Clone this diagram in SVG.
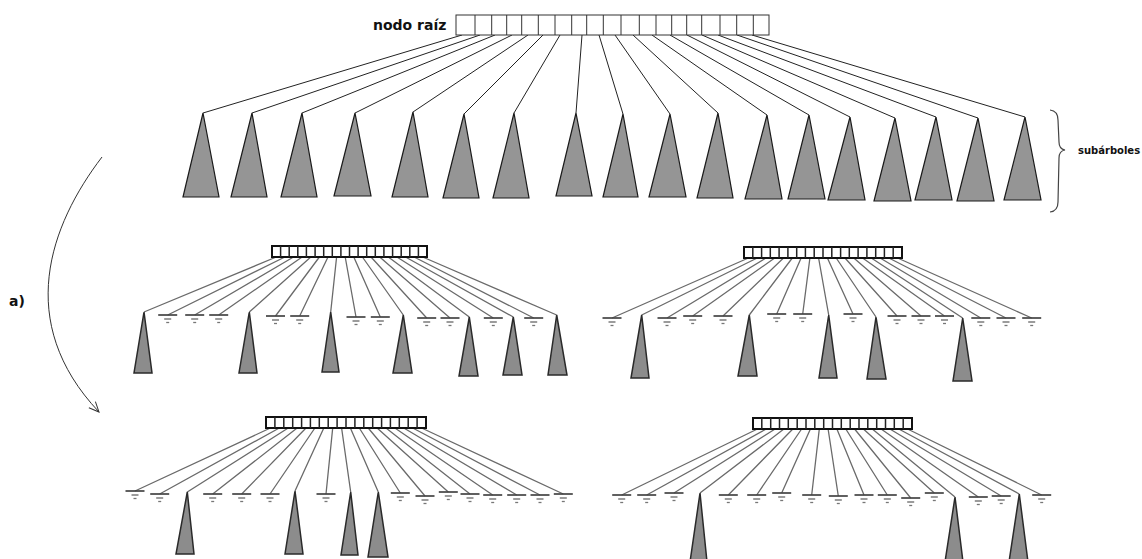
<svg xmlns="http://www.w3.org/2000/svg" xmlns:xlink="http://www.w3.org/1999/xlink" width="1142" height="559" viewBox="0 0 1142 559">
  <style>
    .lbl { font-family: "DejaVu Sans", "Liberation Sans", sans-serif; font-weight: bold; fill: #111; }
    .edge { stroke: #222; stroke-width: 1; fill: none; }
    .sub { fill: #959595; stroke: #1a1a1a; stroke-width: 1.2; stroke-linejoin: miter; }
    .rootbox { fill: #fff; stroke: #333; stroke-width: 1; }
    .cells { stroke: #333; stroke-width: 1; fill: none; }
    .sedge { stroke: #6a6a6a; stroke-width: 1.3; fill: none; }
    .ssub { fill: #8c8c8c; stroke: #2a2a2a; stroke-width: 1.5; stroke-linejoin: miter; }
    .sbox { fill: #fff; stroke: #111; stroke-width: 2; }
    .scells { stroke: #222; stroke-width: 1.5; fill: none; }
    .brace { stroke: #444; stroke-width: 1.2; fill: none; }
    .flow { stroke: #333; stroke-width: 1; fill: none; }
  </style>
  <defs>
    <!-- empty (null) child pointer -->
    <g id="gnd">
      <path d="M-9.5,0H9.5" stroke="#444" stroke-width="1.7"/>
      <path d="M-3.5,4H3.5" stroke="#666" stroke-width="1.3"/>
      <path d="M-1.5,7.5H1.5" stroke="#777" stroke-width="1.3"/>
    </g>
    <marker id="openArrow" markerUnits="userSpaceOnUse" markerWidth="14" markerHeight="12" refX="0" refY="0" viewBox="-11 -6 12 12" orient="auto">
      <path d="M-10,-4.5 L0,0 L-10,4.5" stroke="#333" stroke-width="1" fill="none"/>
    </marker>
  </defs>

  <rect width="1142" height="559" fill="#fff"/>

  <!-- labels -->
  <text class="lbl" x="373" y="30" font-size="14">nodo raíz</text>
  <text class="lbl" x="1078" y="154" font-size="10">subárboles</text>
  <text class="lbl" x="9" y="306" font-size="14">a)</text>

  <!-- connectors -->
  <g id="connectors">
    <g id="root-edges">
      <path class="edge" d="M462,35L203,113M480,35L252,113M495,35L302,113M512,35L355,113M528,35L413,112M543,35L464,114M560,35L514,113M582,35L576,113M599,35L623,114M615,35L670,114M633,35L718,113M652,35L767,115M670,35L809,115M687,35L850,117M702,35L895,118M718,35L936,117M737,35L978,118M752,35L1025,117"/>
    </g>
    <g id="treeA-edges">
      <path class="sedge" d="M276.3,257L144,312M284.9,257L167.7,315M293.5,257L194.7,315M302.1,257L218.7,315M310.8,257L249.3,312M319.4,257L275.5,316M328,257L299.7,316M336.6,257L330.7,312M345.2,257L356,317M353.8,257L380.3,317M362.4,257L403.3,315M371,257L426.7,318M379.7,257L450,318M388.3,257L469.3,317M396.9,257L493.3,318M405.5,257L513.3,317M414.1,257L533.7,318M422.7,257L556.7,315"/>
    </g>
    <g id="treeB-edges">
      <path class="sedge" d="M748.4,258L612,318M757.2,258L641.7,315M765.9,258L667,318M774.7,258L692.7,316M783.5,258L723,316M792.3,258L749.3,315M801.1,258L776.7,314M809.9,258L802.7,314M818.6,258L828.7,315M827.4,258L853,314M836.2,258L876,317M845,258L897,316M853.8,258L921,316M862.6,258L944.5,316M871.3,258L962.7,318M880.1,258L980.8,318M888.9,258L1006,318M897.6,258L1031.7,318"/>
    </g>
    <g id="treeC-edges">
      <path class="sedge" d="M270.4,428L135,491M279.3,428L159.7,494M288.2,428L187.3,492M297.1,428L212.7,494M306,428L241.7,494M314.9,428L270,494M323.8,428L295,491M332.7,428L326,494M341.6,428L350.7,492M350.4,428L378.3,492M359.3,428L400.3,493M368.2,428L425,496M377.1,428L448.3,492M386,428L470,494M394.9,428L492.7,495M403.8,428L516.7,495M412.7,428L540,495M421.6,428L563.3,494"/>
    </g>
    <g id="treeD-edges">
      <path class="sedge" d="M757.4,429L621.7,495M766.3,429L646.7,495M775.1,429L674,493M783.9,429L700,493M792.8,429L728.3,495M801.6,429L756.7,495M810.4,429L781.7,493M819.3,429L811.7,495M828.1,429L838.3,496M836.9,429L864,495M845.8,429L887.3,495M854.6,429L910.7,498M863.4,429L934.3,493M872.3,429L955,497M881.1,429L978.3,497M889.9,429L1001.2,496M898.8,429L1019.3,494M907.6,429L1041.7,495"/>
    </g>
    <!-- curved flow arrow -->
    <path id="flow-arrow" class="flow" d="M102,157 C50,225 14,322 99,412" marker-end="url(#openArrow)"/>
    <!-- brace grouping the subtrees -->
    <path id="subtree-brace" class="brace" d="M1050,110 Q1058,111 1058,120 L1059,142 Q1059,149 1065,150 Q1059,151 1059,158 L1058,202 Q1058,211 1050,212"/>
  </g>

  <!-- root node -->
  <g id="root">
    <rect class="rootbox" x="456" y="15" width="313" height="20"/>
    <path class="cells" d="M475,15V35M491.7,15V35M506.7,15V35M521.7,15V35M538.3,15V35M555,15V35M571.7,15V35M586.7,15V35M603.3,15V35M621,15V35M639.3,15V35M656,15V35M671.7,15V35M686.7,15V35M701.7,15V35M720,15V35M736.7,15V35M753.3,15V35"/>
  </g>

  <!-- subtrees of the root -->
  <g id="subtrees">
    <polygon id="st1" class="sub" points="203,113 219,197 183,197"/>
    <polygon id="st2" class="sub" points="252,113 267,197 231,197"/>
    <polygon id="st3" class="sub" points="302,113 317,197 281,197"/>
    <polygon id="st4" class="sub" points="355,113 371,196 334,196"/>
    <polygon id="st5" class="sub" points="413,112 428,197 392,197"/>
    <polygon id="st6" class="sub" points="464,114 479,198 443,198"/>
    <polygon id="st7" class="sub" points="514,113 529,198 493,198"/>
    <polygon id="st8" class="sub" points="576,113 592,196 556,196"/>
    <polygon id="st9" class="sub" points="623,114 638,197 603,197"/>
    <polygon id="st10" class="sub" points="670,114 686,197 649,197"/>
    <polygon id="st11" class="sub" points="718,113 733,198 697,198"/>
    <polygon id="st12" class="sub" points="767,115 782,199 745,199"/>
    <polygon id="st13" class="sub" points="809,115 825,199 788,199"/>
    <polygon id="st14" class="sub" points="850,117 865,200 828,200"/>
    <polygon id="st15" class="sub" points="895,118 911,201 874,201"/>
    <polygon id="st16" class="sub" points="936,117 952,200 915,200"/>
    <polygon id="st17" class="sub" points="978,118 994,201 957,201"/>
    <polygon id="st18" class="sub" points="1025,117 1041,200 1004,200"/>
  </g>

  <!-- small tree A (upper left) -->
  <g id="treeA">
    <rect class="sbox" x="272" y="246" width="155" height="11"/>
    <path class="scells" d="M280.6,246V257M289.2,246V257M297.8,246V257M306.4,246V257M315.1,246V257M323.7,246V257M332.3,246V257M340.9,246V257M349.5,246V257M358.1,246V257M366.7,246V257M375.3,246V257M383.9,246V257M392.6,246V257M401.2,246V257M409.8,246V257M418.4,246V257"/>
    <polygon class="ssub" points="144,312 152,373 134,373"/>
    <polygon class="ssub" points="249.3,312 257,373 239,373"/>
    <polygon class="ssub" points="330.7,312 339,372 322,372"/>
    <polygon class="ssub" points="403.3,315 412,373 393,373"/>
    <polygon class="ssub" points="469.3,317 478,376 459,376"/>
    <polygon class="ssub" points="513.3,317 522,375 503,375"/>
    <polygon class="ssub" points="556.7,315 567,375 548,375"/>
    <use xlink:href="#gnd" x="167.7" y="315"/>
    <use xlink:href="#gnd" x="194.7" y="315"/>
    <use xlink:href="#gnd" x="218.7" y="315"/>
    <use xlink:href="#gnd" x="275.5" y="316"/>
    <use xlink:href="#gnd" x="299.7" y="316"/>
    <use xlink:href="#gnd" x="356" y="317"/>
    <use xlink:href="#gnd" x="380.3" y="317"/>
    <use xlink:href="#gnd" x="426.7" y="318"/>
    <use xlink:href="#gnd" x="450" y="318"/>
    <use xlink:href="#gnd" x="493.3" y="318"/>
    <use xlink:href="#gnd" x="533.7" y="318"/>
  </g>

  <!-- small tree B (upper right) -->
  <g id="treeB">
    <rect class="sbox" x="744" y="247" width="158" height="11"/>
    <path class="scells" d="M752.8,247V258M761.6,247V258M770.3,247V258M779.1,247V258M787.9,247V258M796.7,247V258M805.4,247V258M814.2,247V258M823,247V258M831.8,247V258M840.6,247V258M849.3,247V258M858.1,247V258M866.9,247V258M875.7,247V258M884.4,247V258M893.2,247V258"/>
    <polygon class="ssub" points="641.7,315 649,378 631,378"/>
    <polygon class="ssub" points="749.3,315 757,376 738,376"/>
    <polygon class="ssub" points="828.7,315 837,378 819,378"/>
    <polygon class="ssub" points="876,317 886,379 867,379"/>
    <polygon class="ssub" points="962.7,318 972,381 953,381"/>
    <use xlink:href="#gnd" x="612" y="318"/>
    <use xlink:href="#gnd" x="667" y="318"/>
    <use xlink:href="#gnd" x="692.7" y="316"/>
    <use xlink:href="#gnd" x="723" y="316"/>
    <use xlink:href="#gnd" x="776.7" y="314"/>
    <use xlink:href="#gnd" x="802.7" y="314"/>
    <use xlink:href="#gnd" x="853" y="314"/>
    <use xlink:href="#gnd" x="897" y="316"/>
    <use xlink:href="#gnd" x="921" y="316"/>
    <use xlink:href="#gnd" x="944.5" y="316"/>
    <use xlink:href="#gnd" x="980.8" y="318"/>
    <use xlink:href="#gnd" x="1006" y="318"/>
    <use xlink:href="#gnd" x="1031.7" y="318"/>
  </g>

  <!-- small tree C (lower left) -->
  <g id="treeC">
    <rect class="sbox" x="266" y="417" width="160" height="11"/>
    <path class="scells" d="M274.9,417V428M283.8,417V428M292.7,417V428M301.6,417V428M310.4,417V428M319.3,417V428M328.2,417V428M337.1,417V428M346,417V428M354.9,417V428M363.8,417V428M372.7,417V428M381.6,417V428M390.4,417V428M399.3,417V428M408.2,417V428M417.1,417V428"/>
    <polygon class="ssub" points="187.3,492 194,554 176,554"/>
    <polygon class="ssub" points="295,491 303,554 285,554"/>
    <polygon class="ssub" points="350.7,492 358,555 341,555"/>
    <polygon class="ssub" points="378.3,492 388,557 368,557"/>
    <use xlink:href="#gnd" x="135" y="491"/>
    <use xlink:href="#gnd" x="159.7" y="494"/>
    <use xlink:href="#gnd" x="212.7" y="494"/>
    <use xlink:href="#gnd" x="241.7" y="494"/>
    <use xlink:href="#gnd" x="270" y="494"/>
    <use xlink:href="#gnd" x="326" y="494"/>
    <use xlink:href="#gnd" x="400.3" y="493"/>
    <use xlink:href="#gnd" x="425" y="496"/>
    <use xlink:href="#gnd" x="448.3" y="492"/>
    <use xlink:href="#gnd" x="470" y="494"/>
    <use xlink:href="#gnd" x="492.7" y="495"/>
    <use xlink:href="#gnd" x="516.7" y="495"/>
    <use xlink:href="#gnd" x="540" y="495"/>
    <use xlink:href="#gnd" x="563.3" y="494"/>
  </g>

  <!-- small tree D (lower right) -->
  <g id="treeD">
    <rect class="sbox" x="753" y="418" width="159" height="11"/>
    <path class="scells" d="M761.8,418V429M770.7,418V429M779.5,418V429M788.3,418V429M797.2,418V429M806,418V429M814.8,418V429M823.7,418V429M832.5,418V429M841.3,418V429M850.2,418V429M859,418V429M867.8,418V429M876.7,418V429M885.5,418V429M894.3,418V429M903.2,418V429"/>
    <polygon class="ssub" points="700,493 707,562 690,562"/>
    <polygon class="ssub" points="955,497 963,562 945,562"/>
    <polygon class="ssub" points="1019.3,494 1028,562 1009,562"/>
    <use xlink:href="#gnd" x="621.7" y="495"/>
    <use xlink:href="#gnd" x="646.7" y="495"/>
    <use xlink:href="#gnd" x="674" y="493"/>
    <use xlink:href="#gnd" x="728.3" y="495"/>
    <use xlink:href="#gnd" x="756.7" y="495"/>
    <use xlink:href="#gnd" x="781.7" y="493"/>
    <use xlink:href="#gnd" x="811.7" y="495"/>
    <use xlink:href="#gnd" x="838.3" y="496"/>
    <use xlink:href="#gnd" x="864" y="495"/>
    <use xlink:href="#gnd" x="887.3" y="495"/>
    <use xlink:href="#gnd" x="910.7" y="498"/>
    <use xlink:href="#gnd" x="934.3" y="493"/>
    <use xlink:href="#gnd" x="978.3" y="497"/>
    <use xlink:href="#gnd" x="1001.2" y="496"/>
    <use xlink:href="#gnd" x="1041.7" y="495"/>
  </g>
</svg>
